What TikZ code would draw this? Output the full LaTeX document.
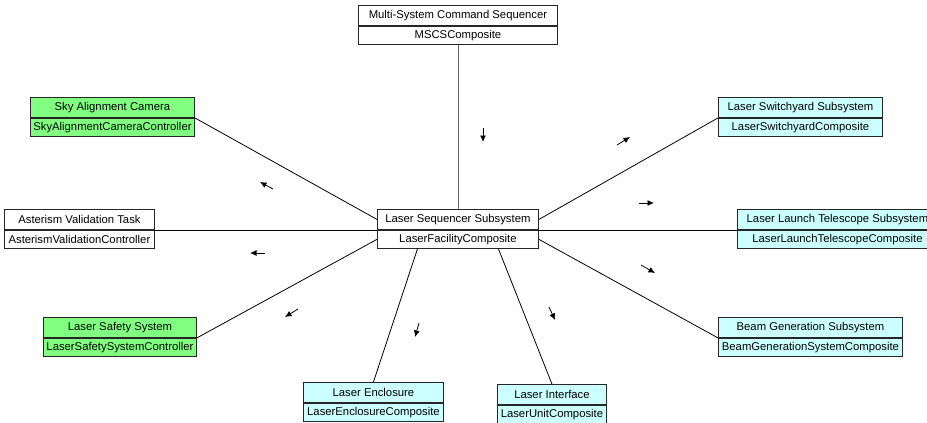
\documentclass[tikz,border=0pt]{standalone}
\usepackage{fontspec}
\setmainfont{Liberation Sans}
\usetikzlibrary{arrows.meta,calc}

\definecolor{ctrlgreen}{RGB}{128,255,128}
\definecolor{compcyan}{RGB}{204,255,255}

\begin{document}
\begin{tikzpicture}[x=1pt, y=-1pt,
  titlebox/.style={draw=black!85, line width=0.9pt, anchor=north west,
    minimum height=20pt, inner sep=1pt, font=\fontsize{11.3}{13}\selectfont},
  classbox/.style={draw=black!85, line width=0.9pt, anchor=north,
    minimum height=18pt, inner sep=1pt, font=\fontsize{11.3}{13}\selectfont},
  link/.style={line width=0.8pt},
  flow/.style={-{Latex[length=6.5pt,width=6pt]}, line width=0.8pt}]
  \useasboundingbox (0,0) rectangle (927,423);

  % 1. Central sequencer
  \node[titlebox, minimum width=161pt, fill=white] (lss) at (377,209) {Laser Sequencer Subsystem};
  \node[classbox, minimum width=161pt, fill=white] (lssc) at (lss.south) {LaserFacilityComposite};

  % 2. Command sequencer (top)
  \node[titlebox, minimum width=199pt, fill=white] (mscs) at (358,5) {Multi-System Command Sequencer};
  \node[classbox, minimum width=199pt, fill=white] (mscsc) at (mscs.south) {MSCSComposite};

  % 3. Controllers (left)
  \node[titlebox, minimum width=164pt, fill=ctrlgreen] (sky) at (30,97) {Sky Alignment Camera};
  \node[classbox, minimum width=164pt, fill=ctrlgreen] (skyc) at (sky.south) {SkyAlignmentCameraController};
  \node[titlebox, minimum width=150pt, fill=white] (ast) at (4,209) {Asterism Validation Task};
  \node[classbox, minimum width=150pt, fill=white] (astc) at (ast.south) {AsterismValidationController};
  \node[titlebox, minimum width=153pt, fill=ctrlgreen] (safe) at (43,317) {Laser Safety System};
  \node[classbox, minimum width=153pt, fill=ctrlgreen] (safec) at (safe.south) {LaserSafetySystemController};

  % 4. Composites (right and bottom)
  \node[titlebox, minimum width=164pt, fill=compcyan] (switch) at (718,97) {Laser Switchyard Subsystem};
  \node[classbox, minimum width=164pt, fill=compcyan] (switchc) at (switch.south) {LaserSwitchyardComposite};
  \node[titlebox, minimum width=200pt, fill=compcyan] (launch) at (737,209) {Laser Launch Telescope Subsystem};
  \node[classbox, minimum width=200pt, fill=compcyan] (launchc) at (launch.south) {LaserLaunchTelescopeComposite};
  \node[titlebox, minimum width=184pt, fill=compcyan] (beam) at (718,317) {Beam Generation Subsystem};
  \node[classbox, minimum width=184pt, fill=compcyan] (beamc) at (beam.south) {BeamGenerationSystemComposite};
  \node[titlebox, minimum width=140pt, fill=compcyan] (encl) at (303,382) {Laser Enclosure};
  \node[classbox, minimum width=140pt, fill=compcyan] (enclc) at (encl.south) {LaserEnclosureComposite};
  \node[titlebox, minimum width=109pt, fill=compcyan] (iface) at (497,384) {Laser Interface};
  \node[classbox, minimum width=109pt, fill=compcyan] (ifacec) at (iface.south) {LaserUnitComposite};

  % 5. Links
  \draw[link, black!60] (mscsc.south) -- (lss.north);
  \draw[link] (sky.south east) -- (lss.west);
  \draw[link] (ast.south east) -- (lss.south west);
  \draw[link] (safe.south east) -- (lssc.west);
  \draw[link] ($(lssc.south west)!0.25!(lssc.south east)$) -- (encl.north);
  \draw[link] ($(lssc.south west)!0.75!(lssc.south east)$) -- (iface.north);
  \draw[link] (lss.east) -- (switch.south west);
  \draw[link] (lss.south east) -- (launch.south west);
  \draw[link] (lssc.east) -- (beam.south west);

  % 6. Direction marks
  \draw[flow] (483,128) -- (483,142);
  \draw[flow] (617,145) -- (630,137);
  \draw[flow] (639,203) -- (654,203);
  \draw[flow] (641,265) -- (655,273);
  \draw[flow] (549,307) -- (555,320);
  \draw[flow] (419,323) -- (415,337);
  \draw[flow] (298,309) -- (285,317);
  \draw[flow] (265,253) -- (250,253);
  \draw[flow] (273,189) -- (260,182);
\end{tikzpicture}
\end{document}
